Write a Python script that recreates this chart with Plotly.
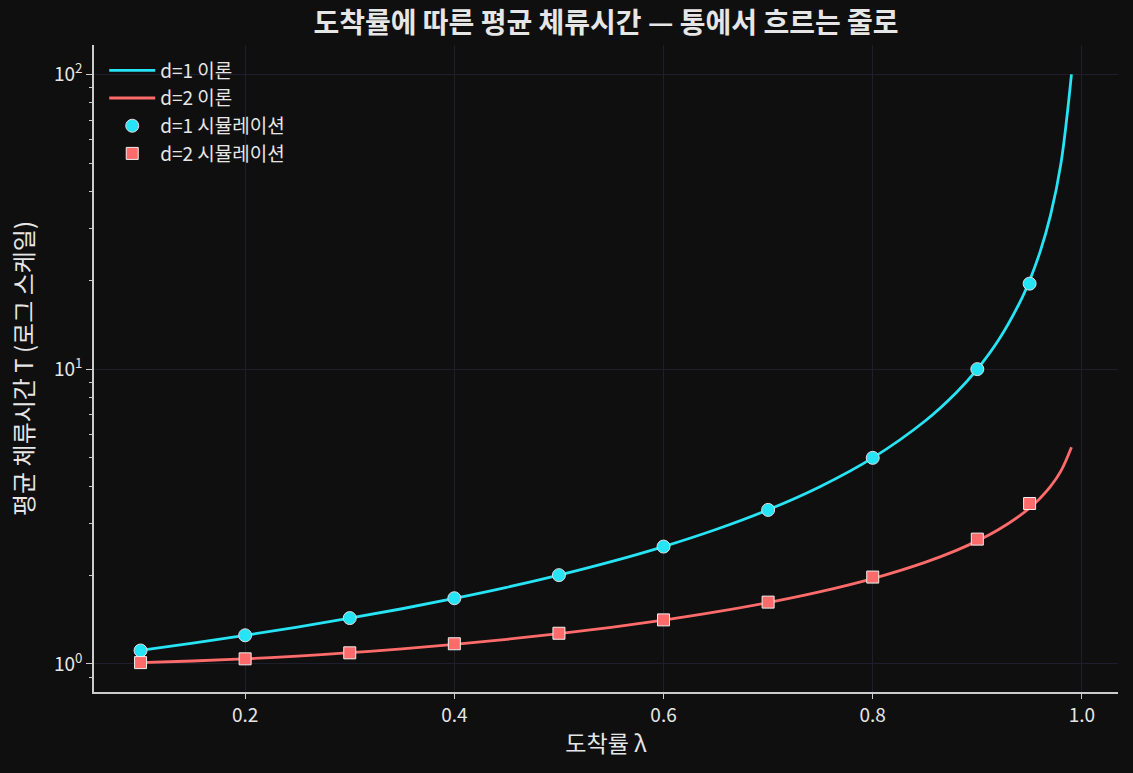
import plotly.graph_objects as go

# Theory curves
lam_theory = [0.10, 0.15, 0.20, 0.25, 0.30, 0.35, 0.40, 0.45, 0.50, 0.55, 0.60, 0.65,
              0.70, 0.75, 0.80, 0.85, 0.88, 0.90, 0.92, 0.94, 0.95, 0.96, 0.97, 0.98, 0.99]
T_d1_theory = [1.111, 1.176, 1.25, 1.333, 1.429, 1.538, 1.667, 1.818, 2.0, 2.222, 2.5, 2.857,
               3.333, 4.0, 5.0, 6.667, 8.333, 10.0, 12.5, 16.67, 20.0, 25.0, 33.3, 50.0, 100.0]
T_d2_theory = [1.010, 1.0225, 1.040, 1.063, 1.091, 1.124, 1.164, 1.211, 1.266, 1.330, 1.407, 1.500,
               1.614, 1.758, 1.947, 2.210, 2.427, 2.614, 2.852, 3.172, 3.383, 3.649, 4.001, 4.515, 5.432]

# Simulation points
lam_sim = [0.1, 0.2, 0.3, 0.4, 0.5, 0.6, 0.7, 0.8, 0.9, 0.95]
T_d1_sim = [1.11, 1.25, 1.43, 1.67, 2.00, 2.50, 3.33, 5.00, 10.0, 19.5]
T_d2_sim = [1.01, 1.04, 1.09, 1.17, 1.27, 1.41, 1.62, 1.97, 2.65, 3.50]

x_ticks = [0.2, 0.4, 0.6, 0.8, 1.0]
x_tick_labels = ["0.2", "0.4", "0.6", "0.8", "1.0"]
y_ticks = [1, 10, 100]
y_tick_labels = ["10<sup>0</sup>", "10<sup>1</sup>", "10<sup>2</sup>"]
y_minor = [0.8, 0.9, 2, 3, 4, 5, 6, 7, 8, 9, 20, 30, 40, 50, 60, 70, 80, 90]

CYAN = "#26e4f5"
RED = "#ff6b6b"
BG = "#0f0f0f"
TXT = "#e6e6e6"
FONT = "Noto Sans CJK KR"

fig = go.Figure()
fig.add_trace(go.Scatter(x=lam_theory, y=T_d1_theory, mode="lines", name="d=1 이론",
                         line=dict(color=CYAN, width=2.8, shape="spline")))
fig.add_trace(go.Scatter(x=lam_theory, y=T_d2_theory, mode="lines", name="d=2 이론",
                         line=dict(color=RED, width=2.8, shape="spline")))
fig.add_trace(go.Scatter(x=lam_sim, y=T_d1_sim, mode="markers", name="d=1 시뮬레이션",
                         marker=dict(symbol="circle", size=13, color=CYAN,
                                     line=dict(color="#dddddd", width=1))))
fig.add_trace(go.Scatter(x=lam_sim, y=T_d2_sim, mode="markers", name="d=2 시뮬레이션",
                         marker=dict(symbol="square", size=12, color=RED,
                                     line=dict(color="#eeeeee", width=1))))

fig.update_layout(
    width=1133, height=773,
    paper_bgcolor=BG, plot_bgcolor=BG,
    margin=dict(l=94, r=15, t=45, b=81),
    font=dict(family=FONT, color=TXT, size=17),
    title=dict(text="<b>도착률에 따른 평균 체류시간 — 통에서 흐르는 줄로</b>",
               x=606 / 1133, xanchor="center",
               y=1 - 23 / 773, yanchor="middle", font=dict(size=28, color=TXT)),
    showlegend=True,
    legend=dict(x=0.01, y=0.99, xanchor="left", yanchor="top",
                bgcolor="rgba(0,0,0,0)", font=dict(size=19, color=TXT),
                itemwidth=46, tracegroupgap=0),
    xaxis=dict(range=[0.0555, 1.0345], tickvals=x_ticks, ticktext=x_tick_labels,
               showgrid=True, gridcolor="#1e1e2c", gridwidth=1, zeroline=False,
               showline=True, linecolor="#cccccc", linewidth=1.5,
               ticks="outside", ticklen=5, tickcolor="#cccccc",
               tickfont=dict(size=19, color=TXT),
               title=dict(text="도착률 λ", font=dict(size=23, color=TXT), standoff=10)),
    yaxis=dict(type="log", range=[-0.0955, 2.0998], tickvals=y_ticks, ticktext=y_tick_labels,
               showgrid=True, gridcolor="#1e1e2c", gridwidth=1, zeroline=False,
               showline=True, linecolor="#cccccc", linewidth=1.5,
               ticks="outside", ticklen=6, tickcolor="#cccccc",
               tickfont=dict(size=19, color=TXT),
               minor=dict(tickvals=y_minor, ticks="outside", ticklen=3, tickcolor="#cccccc",
                          showgrid=False),
               title=dict(text="평균 체류시간 T (로그 스케일)", font=dict(size=24, color=TXT), standoff=14)),
)

fig.write_html("out.html")
